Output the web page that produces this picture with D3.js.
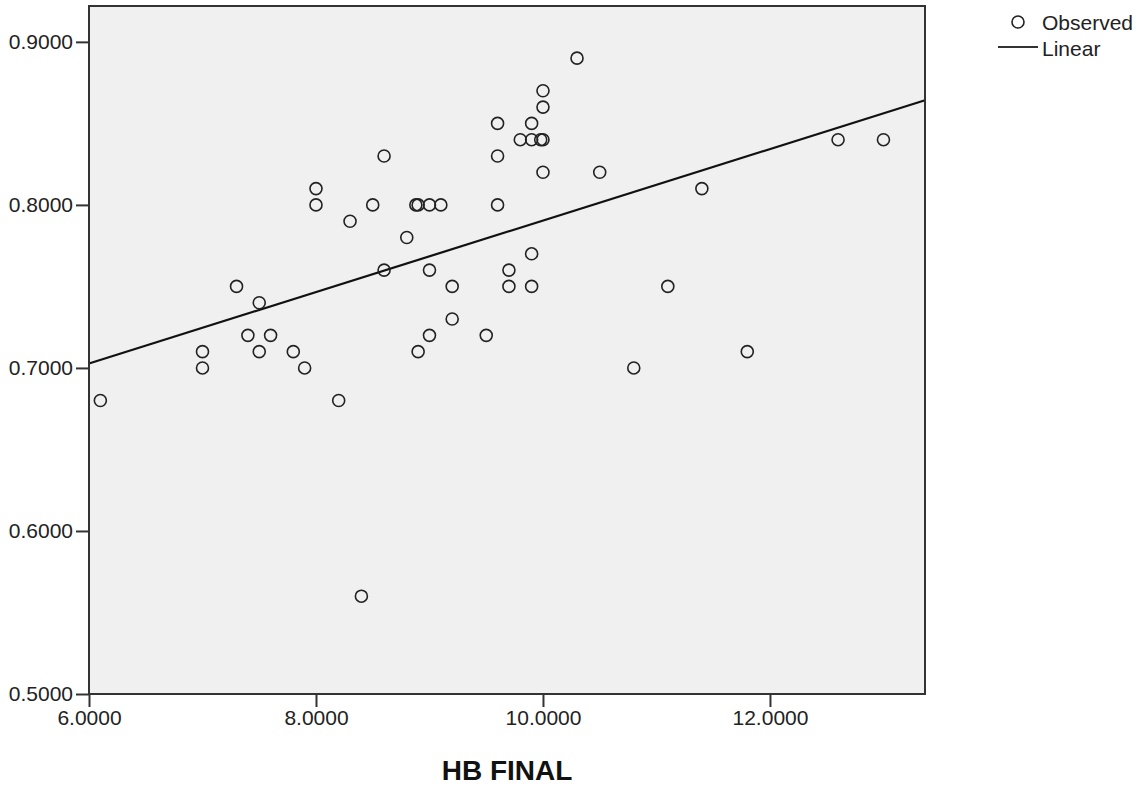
<!DOCTYPE html>
<html><head><meta charset="utf-8">
<script src="https://cdn.jsdelivr.net/npm/d3@7"></script>
<style>body{margin:0;background:#fff;}svg{display:block;font-family:"Liberation Sans",Arial,sans-serif;}</style>
</head><body>
<svg id="chart" width="1147" height="791"></svg>
<script>
// Data (HB FINAL vs response)
const hbFinal = [6.1,7.0,7.0,7.3,7.4,7.5,7.5,7.6,7.8,7.9,8.0,8.0,8.2,8.3,8.4,8.5,8.6,8.6,8.8,8.88,8.9,8.9,9.0,9.0,9.0,9.1,9.2,9.2,9.5,9.6,9.6,9.6,9.7,9.7,9.8,9.9,9.9,9.9,9.9,10.0,10.0,9.98,10.0,10.0,10.3,10.5,10.8,11.1,11.4,11.8,12.6,13.0];
const observed = [0.68,0.71,0.70,0.75,0.72,0.74,0.71,0.72,0.71,0.70,0.81,0.80,0.68,0.79,0.56,0.80,0.83,0.76,0.78,0.80,0.80,0.71,0.80,0.76,0.72,0.80,0.75,0.73,0.72,0.85,0.83,0.80,0.76,0.75,0.84,0.85,0.84,0.77,0.75,0.87,0.86,0.84,0.84,0.82,0.89,0.82,0.70,0.75,0.81,0.71,0.84,0.84];
const linearFit = {intercept: 0.5711, slope: 0.02193};
const xTicks = [6,8,10,12];
const yTicks = [0.5,0.6,0.7,0.8,0.9];
const xDomain = [6.0, 13.366];
const yDomain = [0.5, 0.922];
const legendItems = ["Observed","Linear"];
const xTitle = "HB FINAL";

const svg = d3.select("#chart");
const L = 89, R = 925, T = 6, B = 694;
const x = d3.scaleLinear().domain(xDomain).range([L, R]);
const y = d3.scaleLinear().domain(yDomain).range([B, T]);
const fmt = d3.format(".4f");
const ink = "#222";

svg.append("rect").attr("x", L).attr("y", T).attr("width", R-L).attr("height", B-T)
  .attr("fill", "#f0f0f0");

// regression line
const g = svg.append("g");
g.append("line")
  .attr("x1", x(xDomain[0])).attr("y1", y(linearFit.intercept + linearFit.slope*xDomain[0]))
  .attr("x2", x(xDomain[1])).attr("y2", y(linearFit.intercept + linearFit.slope*xDomain[1]))
  .attr("stroke", "#111").attr("stroke-width", 2.2);

// points
g.selectAll("circle").data(hbFinal.map((v,i)=>[v, observed[i]])).join("circle")
  .attr("cx", d=>x(d[0])).attr("cy", d=>y(d[1])).attr("r", 6)
  .attr("fill", "none").attr("stroke", ink).attr("stroke-width", 1.6);

// frame
svg.append("rect").attr("x", L).attr("y", T).attr("width", R-L).attr("height", B-T)
  .attr("fill", "none").attr("stroke", "#333").attr("stroke-width", 2);

// axes
const xAxis = d3.axisBottom(x).tickValues(xTicks).tickFormat(fmt).tickSize(13).tickPadding(3);
const yAxis = d3.axisLeft(y).tickValues(yTicks).tickFormat(fmt).tickSize(13).tickPadding(3);
const gx = svg.append("g").attr("transform", `translate(0,${B})`).call(xAxis);
const gy = svg.append("g").attr("transform", `translate(${L},0)`).call(yAxis);
[gx, gy].forEach(a => {
  a.select(".domain").remove();
  a.selectAll(".tick line").attr("stroke", "#333").attr("stroke-width", 2);
  a.selectAll(".tick text").attr("fill", ink).style("font-size", "21px")
    .style("font-family", '"Liberation Sans",Arial,sans-serif');
});

// axis title
svg.append("text").attr("x", (L+R)/2).attr("y", 780).attr("text-anchor", "middle")
  .style("font-size", "28px").style("font-weight", "bold").attr("fill", "#111").text(xTitle);

// legend
const lg = svg.append("g");
lg.append("circle").attr("cx", 1018).attr("cy", 22).attr("r", 6)
  .attr("fill", "none").attr("stroke", ink).attr("stroke-width", 1.6);
lg.append("line").attr("x1", 998).attr("x2", 1038).attr("y1", 47).attr("y2", 47)
  .attr("stroke", "#333").attr("stroke-width", 2.2);
lg.selectAll("text").data(legendItems).join("text")
  .attr("x", 1042).attr("y", (d,i)=> i===0 ? 22 : 48).attr("dy", "0.36em")
  .style("font-size", "21px").attr("fill", ink).text(d=>d);
</script>
</body></html>
